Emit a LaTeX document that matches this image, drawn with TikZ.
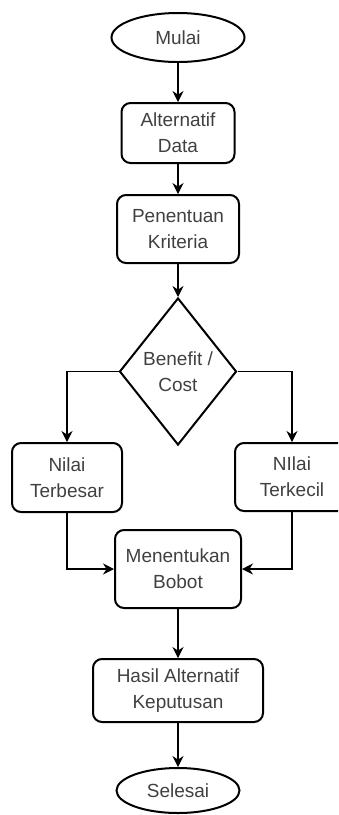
\documentclass[tikz,border=0pt]{standalone}
\usepackage{fontspec}
\setmainfont{Liberation Sans}
\usepackage{xcolor}
\usepackage{tikz}
\usetikzlibrary{arrows.meta,shapes.geometric,positioning}
\tikzset{
  terminal/.style={ellipse,draw,line width=2pt,inner sep=0pt,text=black!75},
  proses/.style={rectangle,draw,line width=2pt,rounded corners=9pt,align=center,inner sep=0pt,text=black!75},
  keputusan/.style={diamond,draw,line width=2pt,align=center,inner sep=0pt,text=black!75},
  panah/.style={-{Stealth[length=11pt,width=11pt]},line width=1.3pt}
}

\begin{document}
\begin{tikzpicture}[x=1pt,y=-1pt,font=\fontsize{19}{26}\selectfont]
\clip (0,0) rectangle (338,815);
% alur utama
\node[terminal,minimum width=133,minimum height=49] (mulai) at (178,37.5) {Mulai};
\node[proses,minimum width=113,minimum height=60] (alternatif) at (178,133) {Alternatif\\Data};
\node[proses,minimum width=122,minimum height=68] (kriteria) at (178,229) {Penentuan\\Kriteria};
\node[keputusan,minimum width=117,minimum height=147] (benefit) at (178,371.5) {Benefit /\\Cost};
% cabang
\node[proses,minimum width=110,minimum height=69] (terbesar) at (67,477.5) {Nilai\\Terbesar};
\node[proses,minimum width=114,minimum height=68] (terkecil) at (292,477) {NIlai\\Terkecil};
\node[proses,minimum width=126,minimum height=78] (bobot) at (178,569) {Menentukan\\Bobot};
\node[proses,minimum width=170,minimum height=63] (hasil) at (178,690.5) {Hasil Alternatif\\Keputusan};
\node[terminal,minimum width=123,minimum height=45] (selesai) at (178,790.5) {Selesai};
% panah
\draw[panah] (mulai) -- (alternatif);
\draw[panah] (alternatif) -- (kriteria);
\draw[panah] (kriteria) -- (benefit);
\draw[panah] (benefit.west) -| (terbesar.north);
\draw[panah] (benefit.east) -| (terkecil.north);
\draw[panah] (terbesar.south) |- (bobot.west);
\draw[panah] (terkecil.south) |- (bobot.east);
\draw[panah] (bobot) -- (hasil);
\draw[panah] (hasil) -- (selesai);
\end{tikzpicture}
\end{document}
